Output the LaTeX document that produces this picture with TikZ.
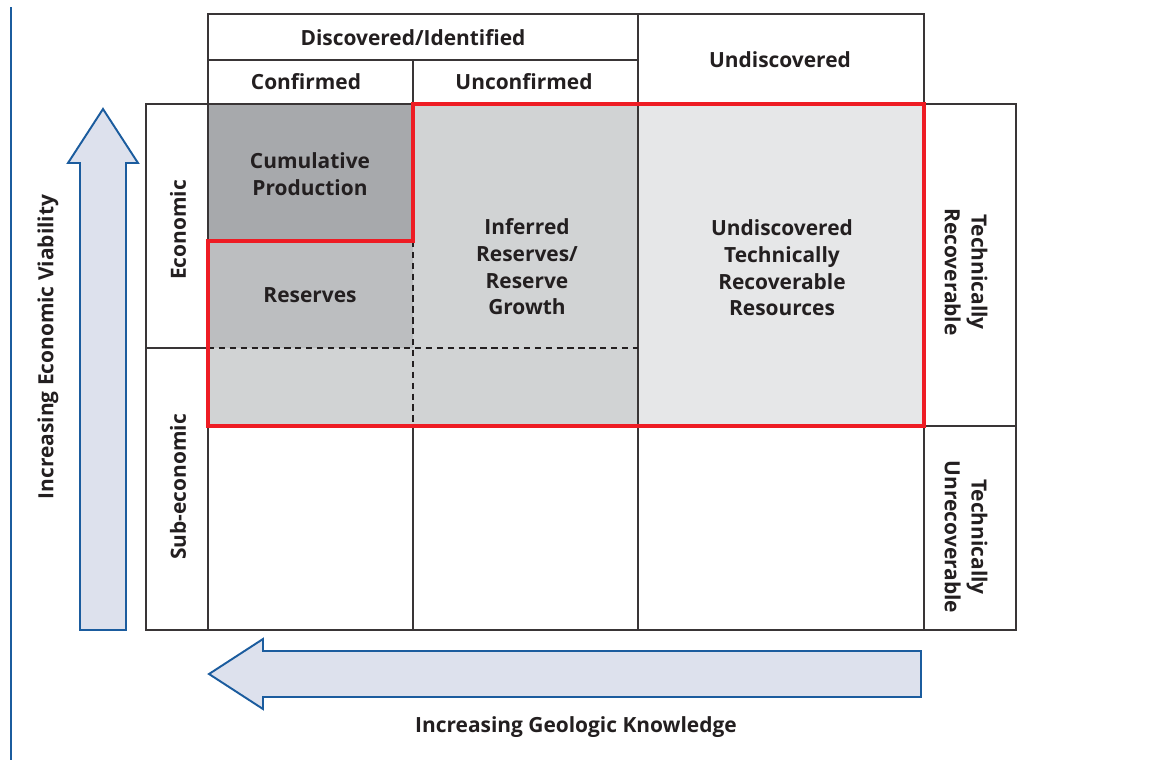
\documentclass[tikz,border=0pt]{standalone}
\usepackage{fontspec}
\setmainfont{Open Sans}
\definecolor{txt}{HTML}{231F20}
\definecolor{gdark}{HTML}{A7A9AC}
\definecolor{gmid}{HTML}{BCBEC0}
\definecolor{glight}{HTML}{D1D3D4}
\definecolor{gpale}{HTML}{E6E7E8}
\definecolor{bfill}{HTML}{DDE1ED}
\definecolor{bline}{HTML}{1B5C9E}
\definecolor{rline}{HTML}{EE1C24}
\tikzset{
  lbl/.style={font=\bfseries\fontsize{11.9}{15.2}\selectfont, text=txt, align=center, inner sep=0pt},
  gridline/.style={draw=txt!90, line width=0.85pt},
  dashline/.style={draw=txt, line width=0.7pt, dash pattern=on 3.6pt off 2.6pt},
  redline/.style={draw=rline, line width=1.8pt, line join=miter},
  bigarrow/.style={fill=bfill, draw=bline, line width=1.1pt, line join=miter}
}
\begin{document}
\begin{tikzpicture}[x=0.02cm, y=-0.02cm]
\useasboundingbox (0,0) rectangle (1156,764);
% left blue rule
\draw[bline, line width=1.2pt] (11,7) -- (11,760);
% fills
\fill[gdark] (208,104) rectangle (413,241);
\fill[gmid] (208,241) rectangle (413,348);
\fill[glight] (208,348) rectangle (413,426);
\fill[glight] (413,104) rectangle (638,426);
\fill[gpale] (638,104) rectangle (924,426);
% grid
\draw[gridline] (208,14) rectangle (924,104);
\draw[gridline] (146,104) rectangle (1016,630);
\draw[gridline] (208,14) -- (208,630);
\draw[gridline] (638,14) -- (638,630);
\draw[gridline] (924,14) -- (924,630);
\draw[gridline] (208,60) -- (638,60);
\draw[gridline] (413,60) -- (413,104);
\draw[gridline] (413,426) -- (413,630);
\draw[gridline] (146,348) -- (208,348);
\draw[gridline] (924,426) -- (1016,426);
% dashed
\draw[dashline] (413,241) -- (413,426);
\draw[dashline] (208,348) -- (638,348);
% red outline
\draw[redline] (208,241) -- (413,241) -- (413,104) -- (924,104) -- (924,426) -- (208,426) -- cycle;
% arrows
\draw[bigarrow] (80,630) -- (80,163) -- (68,163) -- (103,109) -- (138,163) -- (126,163) -- (126,630) -- cycle;
\draw[bigarrow] (921,651) -- (263,651) -- (263,639) -- (209,674) -- (263,709) -- (263,697) -- (921,697) -- cycle;
% labels
\node[lbl] (disc) at (413,38) {Discovered/Identified};
\node[lbl] (conf) at (306,82) {Confirmed};
\node[lbl] (unconf) at (524,82) {Unconfirmed};
\node[lbl] (undisc) at (780,60) {Undiscovered};
\node[lbl] (cum) at (310,174) {Cumulative\\Production};
\node[lbl] (res) at (310,295) {Reserves};
\node[lbl] (inf) at (527,267) {Inferred\\Reserves/\\Reserve\\Growth};
\node[lbl] (utrr) at (782,268) {Undiscovered\\Technically\\Recoverable\\Resources};
\node[lbl, rotate=90] (econ) at (178,230) {Economic};
\node[lbl, rotate=90] (subecon) at (178,487) {Sub-economic};
\node[lbl, rotate=-90] (techrec) at (966,272) {Technically\\Recoverable};
\node[lbl, rotate=-90] (techunrec) at (966,537) {Technically\\Unrecoverable};
\node[lbl, rotate=90] (viab) at (48,347) {Increasing Economic Viability};
\node[lbl] (know) at (576,727) {Increasing Geologic Knowledge};
\end{tikzpicture}
\end{document}
